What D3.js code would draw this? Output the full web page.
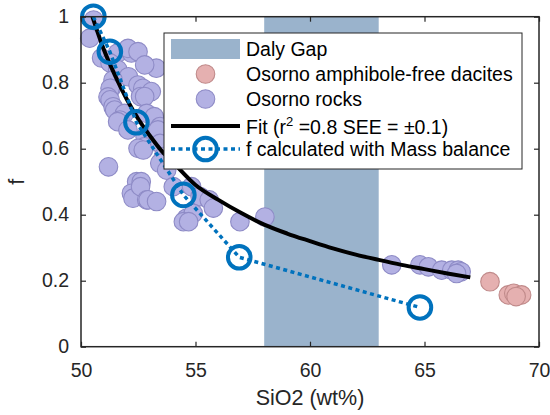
<!DOCTYPE html>
<html>
<head>
<meta charset="utf-8">
<script src="https://cdn.jsdelivr.net/npm/d3@7"></script>
<style>
  html, body { margin: 0; padding: 0; background: #fff; }
  svg { display: block; font-family: "Liberation Sans", Arial, Helvetica, sans-serif; }
</style>
</head>
<body>
<svg id="chart" width="550" height="415"></svg>
<script>
// Daly Gap silica interval (wt% SiO2)
const dalyGap = [58, 63];

// Osorno rocks: SiO2 (wt%) and fraction of remaining melt f
const rocksSiO2 = [50.55, 50.38, 50.9, 51.6, 52.2, 52.05, 52.49, 51.27, 51.6, 53.29,
  52.78, 52.07, 51.4, 51.32, 51.27, 52.49, 52.7, 53.07, 52.6, 51.18, 51.27, 52.78,
  51.4, 51.47, 51.9, 51.7, 51.6, 52.87, 53.2, 53.45, 52.05, 52.8, 53.36, 52.78,
  52.49, 52.72, 53.45, 53.6, 51.2, 53.44, 53.74, 52.43, 52.63, 52.2, 52.27, 52.6,
  52.87, 52.93, 53.3, 54.03, 54.83, 55.2, 54.6, 54.9, 54.47, 54.7, 55.6, 55.78,
  56.94, 58.03,
  63.57, 64.8, 65.17, 65.75, 66.19, 66.47, 66.6, 66.4];
const rocksF = [0.99, 0.935, 0.875, 0.89, 0.89, 0.904, 0.894, 0.86, 0.84, 0.844,
  0.854, 0.818, 0.808, 0.783, 0.783, 0.793, 0.783, 0.773, 0.758, 0.757, 0.748, 0.758,
  0.727, 0.717, 0.707, 0.687, 0.682, 0.707, 0.697, 0.667, 0.657, 0.636, 0.657, 0.606,
  0.601, 0.596, 0.616, 0.576, 0.545, 0.556, 0.535, 0.5, 0.5, 0.465, 0.45, 0.485,
  0.445, 0.445, 0.44, 0.485, 0.485, 0.455, 0.389, 0.404, 0.379, 0.379, 0.445, 0.42,
  0.379, 0.393,
  0.248, 0.248, 0.242, 0.232, 0.232, 0.232, 0.227, 0.222];

// Osorno amphibole-free dacites
const dacitesSiO2 = [67.86, 68.66, 68.9, 69.24, 69.0];
const dacitesF = [0.197, 0.157, 0.162, 0.157, 0.152];

// Fitted trend (r^2 = 0.8, SEE = ±0.1)
const fitSiO2 = [50.5, 51.0, 51.5, 52.0, 52.5, 53.0, 53.5, 54.0, 55.0, 56.0, 57.0,
  58.0, 59.0, 60.0, 61.0, 62.0, 63.0, 64.0, 65.0, 66.0, 67.0];
const fitF = [1.0, 0.90, 0.82, 0.75, 0.69, 0.64, 0.595, 0.56, 0.49, 0.445, 0.405,
  0.37, 0.343, 0.32, 0.298, 0.279, 0.263, 0.248, 0.235, 0.222, 0.21];

// f calculated with mass balance
const massSiO2 = [50.54, 51.26, 52.42, 54.47, 56.91, 64.8];
const massF = [1.0, 0.894, 0.68, 0.46, 0.271, 0.119];

// Axis ticks
const xTicks = [50, 55, 60, 65, 70];
const yTicks = [0, 0.2, 0.4, 0.6, 0.8, 1];
const yTickLabels = ["0", "0.2", "0.4", "0.6", "0.8", "1"];

const legendLabels = ["Daly Gap", "Osorno amphibole-free dacites", "Osorno rocks",
  "Fit", "f calculated with Mass balance"];

const colors = {
  gap: "#9ab3cc",
  rockFill: "#b3b1e3", rockStroke: "#8e8bc6",
  daciteFill: "#e5b0b0", daciteStroke: "#c08a8a",
  fit: "#000000",
  mass: "#0072bd",
  axis: "#262626"
};

const fontSize = 19.5;
const titleSize = 21.5;
const svg = d3.select("#chart");
const plot = { left: 81, top: 16.7, right: 539, bottom: 346.7 };

const x = d3.scaleLinear().domain([50, 70]).range([plot.left, plot.right]);
const y = d3.scaleLinear().domain([0, 1]).range([plot.bottom, plot.top]);

// Daly Gap band
svg.append("rect")
  .attr("x", x(dalyGap[0])).attr("y", y(1))
  .attr("width", x(dalyGap[1]) - x(dalyGap[0]))
  .attr("height", y(0) - y(1))
  .attr("fill", colors.gap);

// Scatter markers
const dacites = dacitesSiO2.map((v, i) => [v, dacitesF[i]]);
const rocks = rocksSiO2.map((v, i) => [v, rocksF[i]]);
const r = 9.3;

svg.append("g").selectAll("circle").data(dacites).join("circle")
  .attr("cx", d => x(d[0])).attr("cy", d => y(d[1])).attr("r", r)
  .attr("fill", colors.daciteFill).attr("stroke", colors.daciteStroke).attr("stroke-width", 1.1);

svg.append("g").selectAll("circle").data(rocks).join("circle")
  .attr("cx", d => x(d[0])).attr("cy", d => y(d[1])).attr("r", r)
  .attr("fill", colors.rockFill).attr("stroke", colors.rockStroke).attr("stroke-width", 1.1);

// Fit curve
const fitLine = d3.line().x(d => x(d[0])).y(d => y(d[1])).curve(d3.curveMonotoneX);
svg.append("path")
  .datum(fitSiO2.map((v, i) => [v, fitF[i]]))
  .attr("d", fitLine)
  .attr("fill", "none").attr("stroke", colors.fit).attr("stroke-width", 4);

// Mass-balance line with open markers
const mass = massSiO2.map((v, i) => [v, massF[i]]);
svg.append("path")
  .datum(mass)
  .attr("d", d3.line().x(d => x(d[0])).y(d => y(d[1])))
  .attr("fill", "none").attr("stroke", colors.mass)
  .attr("stroke-width", 3.5).attr("stroke-dasharray", "4,3.5");
svg.append("g").selectAll("circle").data(mass).join("circle")
  .attr("cx", d => x(d[0])).attr("cy", d => y(d[1])).attr("r", 11.3)
  .attr("fill", "none").attr("stroke", colors.mass).attr("stroke-width", 4);

// Axes: ticks pointing inward on all four sides
function styleAxis(g) {
  g.selectAll(".domain").remove();
  g.selectAll(".tick line").attr("stroke", colors.axis).attr("stroke-width", 1.2);
  g.selectAll(".tick text").attr("fill", colors.axis)
    .style("font-size", fontSize + "px").style("font-family", "Liberation Sans, Arial, sans-serif");
}

svg.append("g").attr("transform", `translate(0,${plot.bottom})`)
  .call(d3.axisBottom(x).tickValues(xTicks).tickSize(-5).tickPadding(16).tickFormat(d3.format("d")))
  .call(styleAxis);
svg.append("g").attr("transform", `translate(0,${plot.top})`)
  .call(d3.axisTop(x).tickValues(xTicks).tickSize(-5).tickFormat(""))
  .call(styleAxis);
svg.append("g").attr("transform", `translate(${plot.left},0)`)
  .call(d3.axisLeft(y).tickValues(yTicks).tickSize(-5).tickPadding(12)
    .tickFormat((d, i) => yTickLabels[i]))
  .call(styleAxis);
svg.append("g").attr("transform", `translate(${plot.right},0)`)
  .call(d3.axisRight(y).tickValues(yTicks).tickSize(-5).tickFormat(""))
  .call(styleAxis);

// Box
svg.append("rect")
  .attr("x", plot.left).attr("y", plot.top)
  .attr("width", plot.right - plot.left).attr("height", plot.bottom - plot.top)
  .attr("fill", "none").attr("stroke", colors.axis).attr("stroke-width", 1.5);

// Axis titles
svg.append("text")
  .attr("x", (plot.left + plot.right) / 2).attr("y", 405)
  .attr("text-anchor", "middle").attr("fill", colors.axis)
  .style("font-size", titleSize + "px")
  .text("SiO2 (wt%)");
svg.append("text")
  .attr("transform", `translate(24,${(plot.top + plot.bottom) / 2}) rotate(-90)`)
  .attr("text-anchor", "middle").attr("fill", colors.axis)
  .style("font-size", titleSize + "px")
  .text("f");

// Legend
const lg = svg.append("g");
const box = { x: 164, y: 33, w: 358, h: 136 };
lg.append("rect").attr("x", box.x).attr("y", box.y).attr("width", box.w).attr("height", box.h)
  .attr("fill", "#fff").attr("stroke", colors.axis).attr("stroke-width", 1);

const rowY = [49, 74, 99, 126, 149];
const symX0 = 171, symX1 = 240, symXc = 205.5, textX = 246;

lg.append("rect").attr("x", symX0).attr("y", rowY[0] - 10).attr("width", symX1 - symX0).attr("height", 20)
  .attr("fill", colors.gap);
lg.append("circle").attr("cx", symXc).attr("cy", rowY[1]).attr("r", r)
  .attr("fill", colors.daciteFill).attr("stroke", colors.daciteStroke).attr("stroke-width", 1.1);
lg.append("circle").attr("cx", symXc).attr("cy", rowY[2]).attr("r", r)
  .attr("fill", colors.rockFill).attr("stroke", colors.rockStroke).attr("stroke-width", 1.1);
lg.append("line").attr("x1", symX0).attr("x2", symX1).attr("y1", rowY[3]).attr("y2", rowY[3])
  .attr("stroke", colors.fit).attr("stroke-width", 4);
lg.append("line").attr("x1", symX0).attr("x2", symX1).attr("y1", rowY[4]).attr("y2", rowY[4])
  .attr("stroke", colors.mass).attr("stroke-width", 3.5).attr("stroke-dasharray", "4,3.5");
lg.append("circle").attr("cx", symXc).attr("cy", rowY[4]).attr("r", 11.3)
  .attr("fill", "none").attr("stroke", colors.mass).attr("stroke-width", 4);

const textRows = [0, 1, 2, 4];
textRows.forEach(i => {
  lg.append("text").attr("x", textX).attr("y", rowY[i] + 7)
    .attr("fill", "#000").style("font-size", fontSize + "px")
    .text(legendLabels[i]);
});
const fitText = lg.append("text").attr("x", textX).attr("y", rowY[3] + 8)
  .attr("fill", "#000").style("font-size", fontSize + "px");
fitText.append("tspan").text(legendLabels[3] + " (r");
fitText.append("tspan").attr("dy", -8).style("font-size", "13px").text("2");
fitText.append("tspan").attr("dy", 8).text(" =0.8 SEE = \u00b10.1)");
</script>
</body>
</html>
